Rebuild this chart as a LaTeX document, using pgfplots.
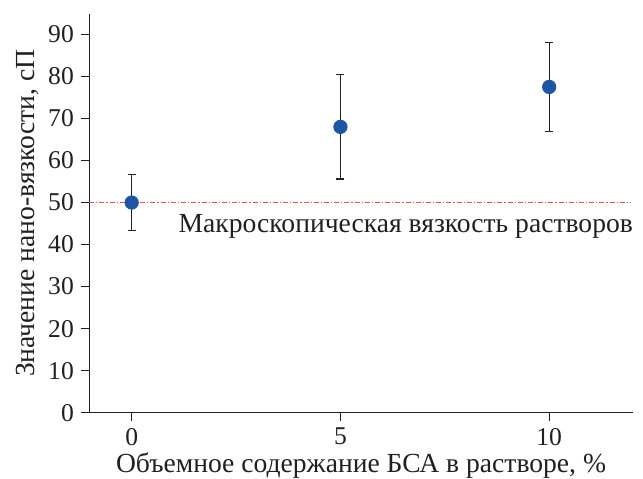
\documentclass[border=0pt]{standalone}
\usepackage{pgfplots}
\pgfplotsset{compat=1.18}
\usepackage{fontspec}
\setmainfont{Liberation Serif}
\definecolor{ptblue}{RGB}{30,85,165}
\definecolor{reflinecol}{RGB}{235,80,80}
\definecolor{txt}{RGB}{35,31,32}
\begin{document}
\begin{tikzpicture}[font=\fontsize{13.8}{16}\selectfont, color=txt]
\useasboundingbox (-44.65pt,-32.65pt) rectangle (276.85pt,206.35pt);
\begin{axis}[
  at={(0,0)}, anchor=south west,
  scale only axis,
  width=271.7pt, height=199.35pt,
  xmin=-1.015, xmax=12.0,
  ymin=0, ymax=94.85,
  axis lines*=left,
  axis line style={line width=0.6pt, color=txt},
  xtick={0,5,10},
  ytick={0,10,...,90},
  tick align=outside,
  major tick length=4.2pt,
  tick style={line width=0.6pt, color=txt},
  tick label style={font=\fontsize{12.8}{15}\selectfont},
  /pgf/number format/assume math mode=true,
  xlabel={Объемное содержание БСА в растворе, \%},
  ylabel={Значение нано-вязкости, сП},
  xlabel style={yshift=3pt},
  ylabel style={yshift=-2pt},
  clip=false,
]
\addplot[reflinecol, line width=0.5pt, dash pattern=on 2.5pt off 1pt on 0.6pt off 1pt] coordinates {(-1.015,50) (11.95,50)};
\addplot[only marks, mark=*, mark size=3.35pt, mark options={fill=ptblue, draw=ptblue},
  error bars/.cd, y dir=both, y explicit,
  error bar style={line width=0.6pt, color=txt},
  error mark options={line width=0.6pt, mark size=2pt, rotate=90, color=txt}]
  coordinates {
    (0,50) +- (0,6.6)
    (5,68) +- (0,12.4)
    (10,77.5) +- (0,10.6)
  };
\node[anchor=base west, inner sep=0pt] at (axis cs:1.116,42.9) {Макроскопическая вязкость растворов};
\end{axis}
\end{tikzpicture}
\end{document}
